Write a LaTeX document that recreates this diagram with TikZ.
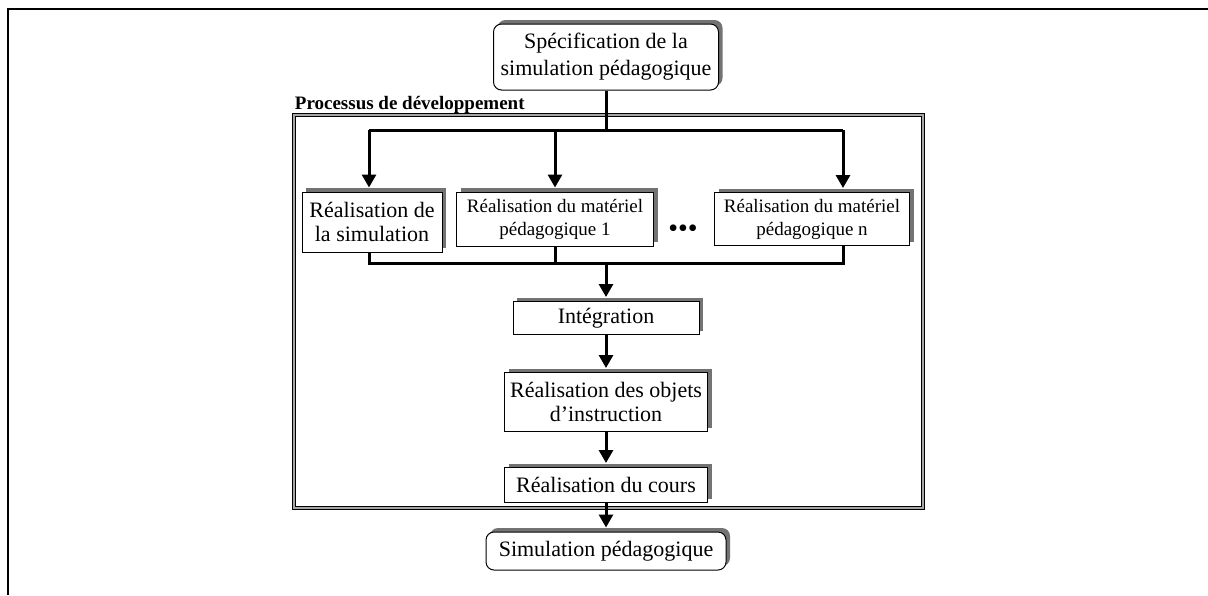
\documentclass[tikz,border=0pt]{standalone}
\usepackage{fontspec}
\setmainfont{Liberation Serif}
\usetikzlibrary{arrows.meta,shadows}

\begin{document}
\begin{tikzpicture}[x=0.5pt,y=-0.5pt,
  box/.style={draw,line width=0.5pt,fill=white,align=center,inner sep=1pt,font=\fontsize{11}{12}\selectfont,drop shadow={shadow xshift=2pt,shadow yshift=2pt,fill=gray!90!black,opacity=1}},
  roundbox/.style={box,rounded corners=4pt},
  smallbox/.style={box,font=\fontsize{9.5}{11.5}\selectfont},
  devframe/.style={draw,line width=0.5pt,double=gray!70,double distance=1pt},
  flow/.style={line width=1.5pt,shorten >=2pt,-{Triangle[width=7pt,length=6.5pt]}},
  bus/.style={line width=1.5pt}]

\useasboundingbox (0,0) rectangle (1208,595);
\draw[line width=1pt] (8,595) -- (8,9) -- (1208,9);

% development process frame
\node[devframe,minimum width=314.5pt,minimum height=196.5pt] (dev) at (608.5,311.5) {};
\node[anchor=south west,inner sep=0.5pt,font=\fontsize{9.5}{11}\selectfont\bfseries] (devtitle) at (dev.north west) {Processus de développement};

\node[roundbox,minimum width=112.5pt,minimum height=33pt,font=\fontsize{11}{13.5}\selectfont] (spec) at (606,57) {Spécification de la\\simulation pédagogique};
\node[box,minimum width=70pt,minimum height=30pt] (sim) at (372,222) {Réalisation de\\la simulation};
\node[smallbox,minimum width=98.5pt,minimum height=27pt] (mat1) at (555,219) {Réalisation du matériel\\pédagogique 1};
\node[font=\fontsize{14}{14}\selectfont,inner sep=0pt] (dots) at (683,231) {•••};
\node[smallbox,minimum width=97.5pt,minimum height=26.5pt] (matn) at (812,219) {Réalisation du matériel\\pédagogique n};
\node[box,minimum width=93pt,minimum height=16.5pt] (integ) at (606,318) {Intégration};
\node[box,minimum width=101.5pt,minimum height=29.5pt] (objets) at (606,402) {Réalisation des objets\\d’instruction};
\node[box,minimum width=101.5pt,minimum height=17.5pt] (cours) at (606,485) {Réalisation du cours};
\node[roundbox,minimum width=120pt,minimum height=19pt] (final) at (606,551) {Simulation pédagogique};

% buses
\coordinate (tL) at (369,130);
\coordinate (tR) at (843,130);
\coordinate (bL) at (369,263);
\coordinate (bR) at (843,263);
\draw[bus] (spec) -- (spec |- tL);
\draw[bus] (tL) -- (tR);
\draw[flow] (tL) -- (tL |- sim.north);
\draw[flow] (mat1 |- tL) -- (mat1.north);
\draw[flow] (tR) -- (tR |- matn.north);
\draw[bus,line join=miter] (sim.south -| bL) -- (bL) -- (bR) -- (bR |- matn.south);
\draw[bus] (mat1.south) -- (mat1 |- bL);
\draw[flow] (integ |- bL) -- (integ);
\draw[flow] (integ) -- (objets);
\draw[flow] (objets) -- (cours);
\draw[flow] (cours) -- (final);

\end{tikzpicture}
\end{document}
